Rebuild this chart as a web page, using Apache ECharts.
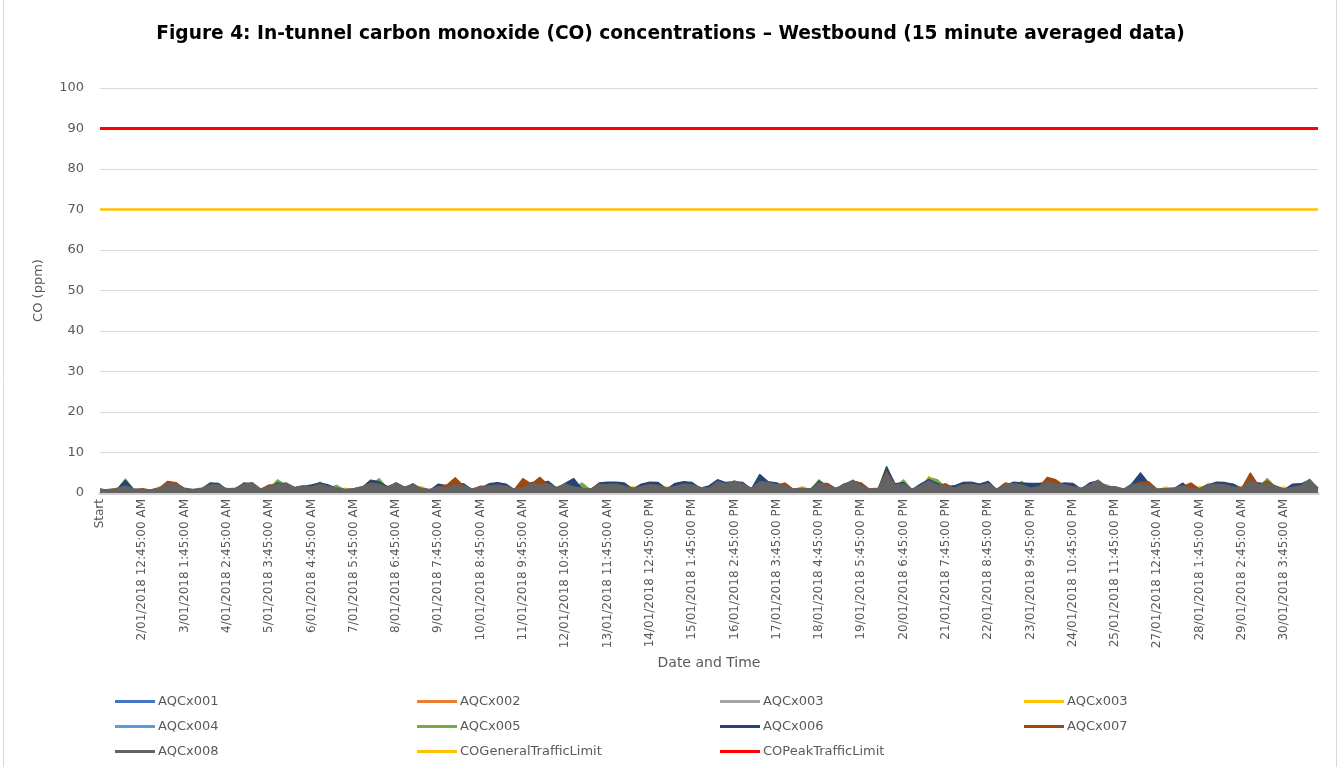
<!DOCTYPE html>
<html>
<head>
<meta charset="utf-8">
<script src="https://cdn.jsdelivr.net/npm/echarts@6/dist/echarts.min.js"></script>
<style>html,body{margin:0;padding:0;background:#fff}#c{width:1341px;height:767px}</style>
</head>
<body>
<div id="c"></div>
<script>
// Tick labels shown every 5 categories (each category = 5 hours of the 15-minute record)
const tickLabels = ['Start','2/01/2018 12:45:00 AM','3/01/2018 1:45:00 AM','4/01/2018 2:45:00 AM','5/01/2018 3:45:00 AM',
 '6/01/2018 4:45:00 AM','7/01/2018 5:45:00 AM','8/01/2018 6:45:00 AM','9/01/2018 7:45:00 AM','10/01/2018 8:45:00 AM',
 '11/01/2018 9:45:00 AM','12/01/2018 10:45:00 AM','13/01/2018 11:45:00 AM','14/01/2018 12:45:00 PM','15/01/2018 1:45:00 PM',
 '16/01/2018 2:45:00 PM','17/01/2018 3:45:00 PM','18/01/2018 4:45:00 PM','19/01/2018 5:45:00 PM','20/01/2018 6:45:00 PM',
 '21/01/2018 7:45:00 PM','22/01/2018 8:45:00 PM','23/01/2018 9:45:00 PM','24/01/2018 10:45:00 PM','25/01/2018 11:45:00 PM',
 '27/01/2018 12:45:00 AM','28/01/2018 1:45:00 AM','29/01/2018 2:45:00 AM','30/01/2018 3:45:00 AM'];
const LABEL_EVERY = 5;

const aqcx001 = [0.5,0.6,0.7,1.2,0.6,0.5,0.5,0.8,1.4,1.5,0.7,0.5,0.7,1.3,1.4,0.6,0.7,1.4,1.6,0.6,1.0,1.4,1.6,0.8,1.1,0.9,1.4,1.0,0.8,0.5,0.6,1.0,1.5,1.4,0.8,1.6,0.9,
 1.3,0.7,0.5,1.0,0.8,1.3,1.2,0.6,0.8,1.1,1.3,1.1,0.6,0.7,1.5,1.3,1.4,0.8,1.4,0.9,0.7,0.6,1.3,1.3,1.4,1.1,0.7,1.0,1.3,1.2,0.7,1.0,1.4,1.3,0.8,0.7,
 1.8,1.4,1.9,1.4,0.7,1.8,1.7,1.3,1.1,0.6,0.7,0.6,1.7,1.1,0.7,1.3,2.0,1.1,0.6,0.7,3.0,1.3,1.4,0.6,1.1,1.9,1.3,1.1,0.7,1.3,1.4,1.1,1.5,0.6,1.3,1.5,
 1.3,0.7,1.0,1.8,1.4,1.3,1.0,0.7,1.3,2.0,0.9,1.0,0.6,1.3,1.5,1.2,0.6,0.7,0.8,1.1,0.6,0.7,1.4,1.4,1.3,0.9,0.8,1.9,1.3,1.5,1.1,0.6,0.9,1.1,2.1,0.7];
const aqcx002 = [0.6,0.5,0.8,1.0,0.7,0.6,0.5,0.9,1.6,1.7,0.8,0.6,0.8,1.4,1.5,0.7,0.8,1.6,1.8,0.7,1.2,1.6,1.8,1.0,1.3,1.1,1.6,1.1,0.9,0.6,0.8,1.1,1.7,1.6,1.0,1.8,1.1,
 1.4,0.8,0.6,1.1,0.9,1.5,1.3,0.7,1.0,1.3,1.4,1.2,0.7,0.8,1.7,1.4,1.6,1.0,1.6,1.1,0.8,0.7,1.4,1.5,1.6,1.2,0.8,1.1,1.5,1.3,0.8,1.1,1.6,1.4,1.0,0.8,
 2.0,1.6,2.1,1.6,0.8,2.0,1.9,1.5,1.3,0.7,0.8,0.7,1.9,1.3,0.8,1.4,2.3,1.3,0.7,0.8,3.6,1.4,1.6,0.7,1.3,2.1,1.4,1.3,0.8,1.4,1.6,1.3,1.7,0.7,1.4,1.6,
 1.4,0.8,1.1,2.0,1.6,1.4,1.1,0.8,1.4,2.3,1.1,1.1,0.7,1.4,1.6,1.4,0.7,0.8,0.9,1.3,0.7,0.8,1.6,1.6,1.4,1.1,0.9,2.1,1.4,1.7,1.3,0.7,1.0,1.3,2.4,0.8];
const aqcx003 = [0.4,0.4,0.6,0.9,0.5,0.4,0.4,0.7,1.1,1.2,0.6,0.4,0.6,1.0,1.1,0.5,0.6,1.1,1.3,0.5,0.8,1.1,1.3,0.7,0.9,0.8,1.1,0.8,0.7,0.4,0.6,0.8,1.2,1.1,0.7,1.3,0.8,
 1.0,0.6,0.4,0.8,0.7,1.1,1.0,0.5,0.7,0.9,1.0,0.9,0.5,0.6,1.2,1.0,1.1,0.7,1.1,0.8,0.6,0.5,1.0,1.1,1.1,0.9,0.6,0.8,1.1,1.0,0.6,0.8,1.1,1.0,0.7,0.6,
 1.4,1.1,1.5,1.1,0.6,1.4,1.3,1.1,0.9,0.5,0.6,0.5,1.3,0.9,0.6,1.0,1.6,0.9,0.5,0.6,2.5,1.0,1.1,0.5,0.9,1.5,1.0,0.9,0.6,1.0,1.1,0.9,1.2,0.5,1.0,1.2,
 1.0,0.6,0.8,1.4,1.1,1.0,0.8,0.6,1.0,1.6,0.8,0.8,0.5,1.0,1.2,1.0,0.5,0.6,0.7,0.9,0.5,0.6,1.1,1.1,1.0,0.8,0.7,1.5,1.0,1.2,0.9,0.5,0.7,0.9,1.7,0.6];
const aqcx003b = [0.7,0.6,1.3,1.0,0.7,0.6,0.6,1.5,1.2,1.3,0.8,0.6,0.8,1.2,1.3,1.2,0.8,1.4,1.5,0.7,1.0,1.4,1.5,0.9,1.1,1.0,1.4,1.0,0.9,1.2,0.7,1.0,1.4,1.4,0.9,1.5,1.0,
 1.2,1.6,0.6,1.0,0.9,1.3,1.2,0.7,0.9,1.1,1.2,1.1,0.7,0.8,1.5,1.2,1.4,0.9,1.4,1.0,0.8,0.7,1.2,1.3,1.4,1.1,1.6,1.0,1.3,1.2,1.5,1.0,1.4,1.2,0.9,0.8,
 1.8,1.4,1.9,1.4,0.8,1.8,1.7,1.3,1.1,0.7,1.6,0.7,1.7,1.1,0.8,2.4,2.0,1.1,0.7,0.8,3.2,1.3,1.4,0.7,1.1,4.2,1.3,1.1,0.8,1.3,1.4,1.1,1.5,0.7,1.3,1.5,
 1.3,0.8,1.0,1.8,1.4,1.3,1.0,0.8,1.3,2.0,1.0,1.0,0.7,1.3,1.5,1.2,0.7,1.5,0.8,1.1,0.7,1.6,1.4,1.4,1.3,1.0,1.8,1.9,1.3,1.5,1.1,1.5,0.9,1.1,2.1,0.8];
const aqcx004 = [0.5,0.4,0.5,0.8,0.6,0.5,0.4,0.6,1.0,1.0,0.5,0.5,0.5,0.9,0.9,0.5,0.5,1.0,1.1,0.5,0.7,1.0,1.1,0.6,0.8,0.7,1.0,0.7,0.6,0.5,0.5,0.7,1.0,1.0,0.6,1.1,0.7,
 0.9,0.5,0.5,0.7,0.6,0.9,0.8,0.5,0.6,0.8,0.9,0.8,0.5,0.5,1.0,0.9,1.0,0.6,1.0,0.7,0.5,0.5,0.9,0.9,1.0,0.8,0.5,0.7,0.9,0.9,0.5,0.7,1.0,0.9,0.6,0.5,
 1.2,1.0,1.3,1.0,0.5,1.2,1.1,0.9,0.8,0.5,0.5,0.5,1.1,0.8,0.5,0.9,1.4,0.8,0.5,0.5,2.2,0.9,1.0,0.5,0.8,1.3,0.9,0.8,0.5,0.9,1.0,0.8,1.0,0.5,0.9,1.0,
 0.9,0.5,0.7,1.2,1.0,0.9,0.7,0.5,0.9,1.4,0.7,0.7,0.5,0.9,1.0,0.8,0.5,0.5,0.6,0.8,0.5,0.5,1.0,1.0,0.9,0.7,0.6,1.3,0.9,1.0,0.8,0.5,0.6,0.8,1.5,0.5];
const aqcx005 = [0.6,0.7,0.8,3.5,0.8,0.7,0.6,1.0,1.5,1.6,0.9,0.7,0.9,1.5,1.6,0.8,0.9,1.7,1.9,0.8,1.2,3.3,1.9,1.1,1.4,1.2,2.7,1.3,1.9,0.7,0.9,1.2,1.8,3.6,1.1,1.9,1.2,
 1.5,0.9,0.7,1.2,1.0,1.6,2.3,0.8,1.1,1.4,1.5,1.3,0.8,0.9,1.8,1.5,1.7,1.1,1.7,1.2,2.5,0.8,1.5,1.6,1.7,1.3,0.9,1.2,1.6,1.4,0.9,1.2,1.7,1.5,1.1,0.9,
 2.1,1.7,2.3,1.7,0.9,2.1,2.0,1.6,1.4,0.8,0.9,0.8,3.3,1.4,0.9,1.5,2.4,1.4,0.8,0.9,6.7,1.5,3.3,0.8,1.4,3.8,3.3,1.4,0.9,1.5,1.7,1.4,1.8,0.8,1.5,1.7,
 2.9,0.9,1.2,2.1,1.7,1.5,1.2,0.9,1.5,2.4,2.0,1.2,0.8,1.5,1.7,1.4,0.8,0.8,1.0,1.4,0.8,0.8,1.7,1.7,1.5,1.1,1.0,2.3,1.5,3.6,1.4,0.8,1.1,1.4,2.6,0.9];
const aqcx006 = [1.0,0.6,0.9,3.2,0.8,0.7,0.6,1.1,1.9,2.0,1.0,0.7,1.0,2.5,2.4,0.8,1.0,2.5,2.3,0.8,1.4,2.5,2.2,1.2,1.6,2.0,2.5,2.0,1.1,0.7,0.9,1.4,3.2,2.8,1.6,2.3,1.3,
 2.3,1.0,0.7,2.2,1.8,2.6,2.2,0.8,1.2,2.3,2.6,2.2,0.8,1.0,2.6,2.5,2.9,1.2,2.4,3.6,1.0,0.8,2.5,2.7,2.7,2.5,1.0,2.2,2.7,2.6,1.0,2.4,2.8,2.6,1.2,1.8,
 3.3,2.6,2.8,2.6,1.0,4.6,2.8,2.5,1.6,0.8,1.0,0.8,3.0,1.6,1.0,2.2,3.0,2.4,0.8,1.0,6.4,2.3,2.6,0.8,2.2,3.3,2.4,1.6,1.8,2.6,2.7,2.2,2.9,0.8,1.8,2.7,
 2.5,2.4,2.4,2.6,2.0,2.5,2.4,1.0,2.5,3.0,1.6,1.4,0.8,2.3,5.0,2.4,0.8,0.9,1.1,2.5,0.8,0.9,2.0,2.7,2.6,2.2,1.1,2.5,2.5,2.2,1.6,0.8,2.2,2.3,3.2,1.0];
const aqcx007 = [0.6,0.9,1.0,1.5,0.8,1.1,0.7,1.2,2.9,2.6,1.0,0.8,1.0,1.8,1.9,0.8,1.0,2.0,2.3,0.9,2.0,2.0,2.2,1.3,1.6,1.3,2.2,1.5,1.1,0.8,1.0,1.5,2.5,2.0,1.3,2.2,1.3,
 1.8,1.0,0.8,1.4,2.0,3.8,1.7,0.9,1.7,1.6,1.8,1.5,0.9,3.6,2.2,3.9,2.0,1.3,2.0,1.4,1.1,0.9,2.2,1.9,2.1,1.5,1.1,1.5,1.9,1.7,1.1,1.5,2.0,1.8,1.3,1.1,
 2.5,2.0,2.7,2.0,1.1,2.6,2.4,1.9,2.5,0.9,1.0,0.9,2.4,2.4,1.1,1.8,2.9,2.5,0.9,1.1,5.4,1.8,2.0,0.9,1.6,2.8,1.8,2.3,1.1,1.8,2.0,1.6,2.2,0.9,2.5,2.1,
 1.8,1.1,1.4,3.9,3.3,1.8,1.4,1.1,1.8,2.9,1.4,1.4,0.9,1.8,2.7,2.8,0.9,1.0,1.2,1.6,2.5,1.0,2.0,2.0,1.8,1.3,1.2,5.0,1.8,3.0,1.6,0.9,1.2,1.6,3.0,1.3];
const aqcx008 = [0.9,0.8,1.1,1.8,1.0,0.9,0.8,1.3,2.2,2.3,1.2,0.9,1.2,2.0,2.1,1.0,1.2,2.2,2.6,1.0,1.6,2.2,2.5,1.4,1.8,1.5,2.2,1.6,1.3,0.9,1.1,1.6,2.3,2.2,1.4,2.6,1.5,
 2.0,1.2,0.9,1.6,1.3,2.1,1.9,1.0,1.4,1.8,2.0,1.7,1.0,1.2,2.4,2.0,2.2,1.4,2.2,1.5,1.2,1.0,2.0,2.1,2.2,1.7,1.2,1.6,2.1,1.9,1.2,1.6,2.2,2.0,1.4,1.2,
 2.8,2.2,3.0,2.2,1.2,2.8,2.6,2.1,1.8,1.0,1.2,1.0,2.6,1.8,1.2,2.0,3.2,1.8,1.0,1.2,5.0,2.0,2.2,1.0,1.8,3.0,2.0,1.8,1.2,2.0,2.2,1.8,2.4,1.0,2.0,2.3,
 2.0,1.2,1.6,2.8,2.2,2.0,1.6,1.2,2.0,3.2,1.5,1.6,1.0,2.0,2.3,1.9,1.0,1.1,1.3,1.8,1.0,1.1,2.2,2.2,2.0,1.5,1.3,3.0,2.0,2.4,1.8,1.0,1.4,1.8,3.4,1.2];
const GENERAL_LIMIT = 70;
const PEAK_LIMIT = 90;

const categories = aqcx008.map((_, i) => i);
const generalLimit = categories.map(() => GENERAL_LIMIT);
const peakLimit = categories.map(() => PEAK_LIMIT);

const FONT = 'DejaVu Sans';
const TXT = '#595959';

let zOrder = 2;
function aqc(name, color, data) {
  return { name, type: 'line', data, symbol: 'none', smooth: false, z: zOrder++,
    lineStyle: { color, width: 1.2 }, itemStyle: { color },
    areaStyle: { color, opacity: 1 }, emphasis: { disabled: true } };
}
function limit(name, color, data, width) {
  return { name, type: 'line', data, symbol: 'none', z: zOrder++,
    lineStyle: { color, width }, itemStyle: { color }, emphasis: { disabled: true } };
}
function legendCol(left, names) {
  return { orient: 'vertical', left, top: 690, data: names, icon: 'rect', itemWidth: 40, itemHeight: 3,
    itemGap: 12, selectedMode: false, textStyle: { color: TXT, fontSize: 13, fontFamily: FONT, padding: [0, 0, 0, -2] } };
}

const chart = echarts.init(document.getElementById('c'));
chart.setOption({
  animation: false,
  backgroundColor: '#ffffff',
  title: {
    text: 'Figure 4: In-tunnel carbon monoxide (CO) concentrations – Westbound (15 minute averaged data)',
    left: 'center', top: 20,
    textStyle: { fontFamily: FONT, fontWeight: 'bold', fontSize: 18.6, color: '#000' }
  },
  graphic: [{ type: 'rect', shape: { x: 3.5, y: -2, width: 1333, height: 770 },
    style: { fill: 'none', stroke: '#D9D9D9', lineWidth: 1 }, silent: true }],
  legend: [
    legendCol(110, ['AQCx001', 'AQCx004', 'AQCx008']),
    legendCol(412, ['AQCx002', 'AQCx005', 'COGeneralTrafficLimit']),
    legendCol(715, ['AQCx003', 'AQCx006', 'COPeakTrafficLimit']),
    legendCol(1019, ['AQCx003 ', 'AQCx007'])
  ],
  grid: { left: 100, right: 23, top: 88, bottom: 274 },
  xAxis: {
    type: 'category', data: categories, boundaryGap: false,
    axisLine: { lineStyle: { color: '#D0D0D0', width: 3 } },
    axisTick: { show: false },
    axisLabel: {
      rotate: 90, interval: (i) => i % LABEL_EVERY === 0, margin: 6,
      formatter: (v, i) => (i % LABEL_EVERY === 0 ? (tickLabels[i / LABEL_EVERY] || '') : ''),
      color: TXT, fontSize: 12, fontFamily: FONT
    },
    splitLine: { show: false },
    name: 'Date and Time', nameLocation: 'middle', nameGap: 159,
    nameTextStyle: { color: TXT, fontSize: 14, fontFamily: FONT }
  },
  yAxis: {
    type: 'value', min: 0, max: 100, interval: 10,
    axisLine: { show: false }, axisTick: { show: false },
    axisLabel: { color: TXT, fontSize: 13, fontFamily: FONT, margin: 16 },
    splitLine: { lineStyle: { color: '#D9D9D9', width: 1 } },
    name: 'CO (ppm)', nameLocation: 'middle', nameGap: 55, nameRotate: 90,
    nameTextStyle: { color: TXT, fontSize: 13, fontFamily: FONT }
  },
  series: [
    aqc('AQCx001', '#4472C4', aqcx001),
    aqc('AQCx002', '#ED7D31', aqcx002),
    aqc('AQCx003', '#A5A5A5', aqcx003),
    aqc('AQCx003 ', '#FFC000', aqcx003b),
    aqc('AQCx004', '#5B9BD5', aqcx004),
    aqc('AQCx005', '#70AD47', aqcx005),
    aqc('AQCx006', '#264478', aqcx006),
    aqc('AQCx007', '#9E480E', aqcx007),
    aqc('AQCx008', '#636363', aqcx008),
    limit('COGeneralTrafficLimit', '#FFC000', generalLimit, 2.5),
    limit('COPeakTrafficLimit', '#FF0000', peakLimit, 3)
  ]
});
</script>
</body>
</html>
